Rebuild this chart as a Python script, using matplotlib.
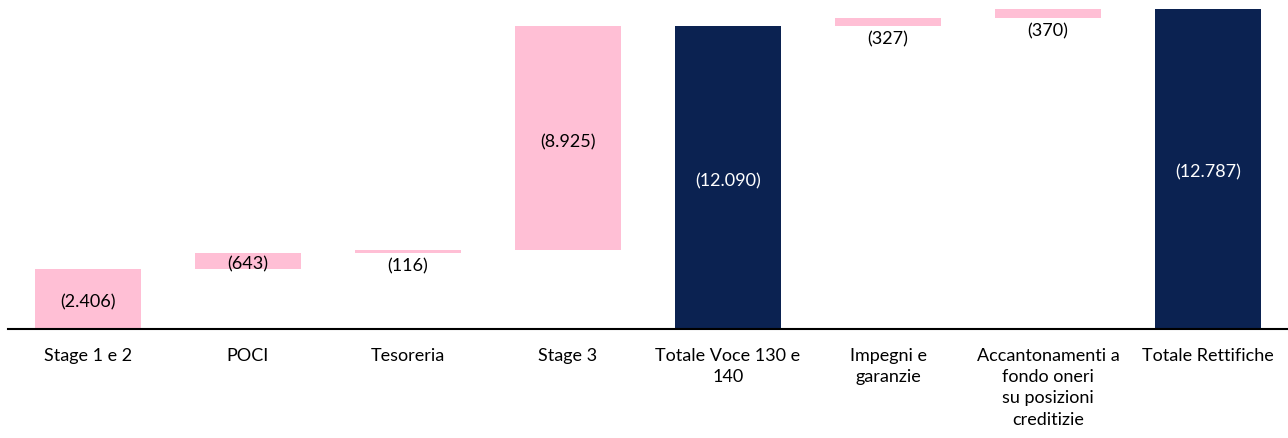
import numpy as np
from matplotlib import pyplot as plt

plt.rcParams['font.family'] = ['Lato', 'DejaVu Sans']

categories = ['Stage 1 e 2', 'POCI', 'Tesoreria', 'Stage 3', 'Totale Voce 130 e\n140',
              'Impegni e\ngaranzie', 'Accantonamenti a\nfondo oneri\nsu posizioni\ncreditizie',
              'Totale Rettifiche']
values = [2406, 643, 116, 8925, 12090, 327, 370, 12787]
is_total = [False, False, False, False, True, False, False, True]
labels = ['(2.406)', '(643)', '(116)', '(8.925)', '(12.090)', '(327)', '(370)', '(12.787)']

pink = '#FFBFD5'
navy = '#0B2251'

# waterfall bottoms
bottoms = []
run = 0
for v, t in zip(values, is_total):
    if t:
        bottoms.append(0)
        run = v
    else:
        bottoms.append(run)
        run += v

x = np.arange(len(values))
fs = 13
fig = plt.figure(figsize=(12.88, 4.39), dpi=100)
ax = fig.add_axes([8 / 1288, 109 / 439, 1280 / 1288, 330 / 439])
colors = [navy if t else pink for t in is_total]
ax.bar(x, values, bottom=bottoms, width=0.66, color=colors)

for xi, v, b, lab, t in zip(x, values, bottoms, labels, is_total):
    if v > 600:
        ax.annotate(lab, (xi, b + v / 2), xytext=(0, -2), textcoords='offset points',
                    ha='center', va='center', fontsize=fs,
                    color='white' if t else 'black')
    else:
        ax.annotate(lab, (xi, b), xytext=(0, -3), textcoords='offset points',
                    ha='center', va='top', fontsize=fs)

ax.set_xlim(-0.5, 7.5)
ax.set_ylim(0, 12787 * 330 / 320)
ax.set_xticks(x)
ax.set_xticklabels(categories, fontsize=fs, linespacing=1.4, va='top')
ax.tick_params(axis='x', length=0, pad=13)
ax.set_yticks([])
for s in ['top', 'left', 'right']:
    ax.spines[s].set_visible(False)
ax.spines['bottom'].set_linewidth(1.5)

fig.savefig('out.png', dpi=100)
